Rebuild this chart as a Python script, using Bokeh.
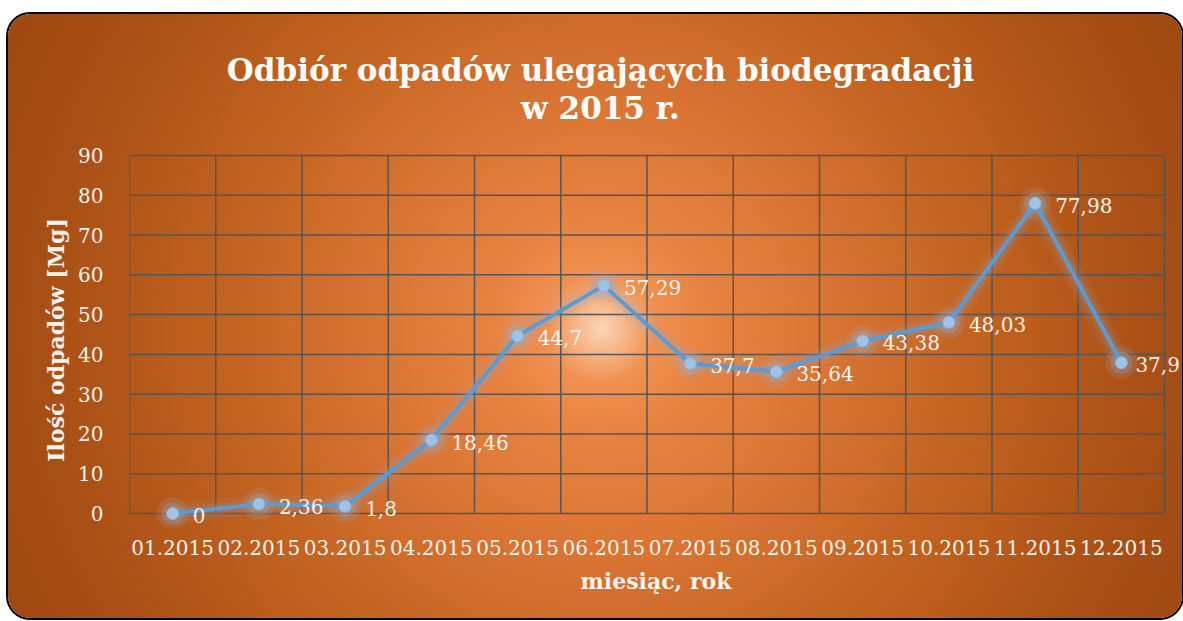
from bokeh.plotting import figure
from bokeh.models import ColumnDataSource, FixedTicker, Label, LabelSet, Range1d
from bokeh.core.properties import value
from bokeh.embed import file_html
from bokeh.resources import INLINE

# ---- data ----
months = ["01.2015", "02.2015", "03.2015", "04.2015", "05.2015", "06.2015",
          "07.2015", "08.2015", "09.2015", "10.2015", "11.2015", "12.2015"]
amounts = [0, 2.36, 1.8, 18.46, 44.7, 57.29, 37.7, 35.64, 43.38, 48.03, 77.98, 37.9]
y_ticks = [0, 10, 20, 30, 40, 50, 60, 70, 80, 90]
title_lines = ["Odbiór odpadów ulegających biodegradacji", "w 2015 r."]
x_title = "miesiąc, rok"
y_title = "Ilość odpadów [Mg]"

n = len(months)
xs = [i + 0.5 for i in range(n)]
labels = [("%g" % v).replace(".", ",") for v in amounts]
offsets = [20] * (n - 1) + [14]
src = ColumnDataSource(dict(x=xs, y=amounts, lab=labels, off=offsets))

W, H = 1174, 604
ML, GRID_TOP = 121, 141               # canvas px of the grid's left / top edge
PLOT_W, PLOT_H = 1035, 358          # pixel size of the 0..12 x 0..90 grid area
EXTRA_R, EXTRA_B = W - ML - PLOT_W, 14
MB = H - GRID_TOP - PLOT_H - EXTRA_B
FRAME_H = H - MB
SERIF = "DejaVu Serif"
TXT = "#f7f3ee"
GRID = "#555555"

ppu_x = PLOT_W / n
ppu_y = PLOT_H / y_ticks[-1]
x_end = n + EXTRA_R / ppu_x
y_start = -EXTRA_B / ppu_y
y_end = y_ticks[-1] + GRID_TOP / ppu_y

p = figure(width=W, height=H, output_backend="svg", toolbar_location=None,
           x_range=Range1d(0, x_end), y_range=Range1d(y_start, y_end),
           min_border_left=ML, min_border_right=0, min_border_top=0,
           min_border_bottom=MB)
p.background_fill_alpha = 0
p.border_fill_alpha = 0
p.outline_line_color = None
p.grid.visible = False
p.styles = {
    "margin-top": "14px",
    "margin-left": "8px",
    "border-radius": "22px",
    "box-shadow": "0 0 0 2px #000000",
    "background": "radial-gradient(circle farthest-corner at 50.5% 52%, "
                  "#fbd6b8 0px, #f09050 55px, #e88240 110px, #d97433 230px, "
                  "#c2621f 380px, #a84f15 560px, #9b4610 700px)",
}

# grid lines (drawn through the data scales)
gx = list(range(n + 1))
p.segment(x0=gx, y0=[y_ticks[0]] * len(gx), x1=gx, y1=[y_ticks[-1]] * len(gx),
          line_color=GRID, line_width=1.5)
p.segment(x0=[0] * len(y_ticks), y0=y_ticks, x1=[n] * len(y_ticks), y1=y_ticks,
          line_color=GRID, line_width=1.5)

# axes
p.xaxis.ticker = FixedTicker(ticks=xs)
p.xaxis.major_label_overrides = {x: m for x, m in zip(xs, months)}
p.yaxis.ticker = FixedTicker(ticks=y_ticks)
p.yaxis.bounds = (y_ticks[0], y_ticks[-1])
for ax in (p.xaxis[0], p.yaxis[0]):
    ax.axis_line_color = None
    ax.major_tick_line_color = None
    ax.minor_tick_line_color = None
    ax.major_label_text_font = SERIF
    ax.major_label_text_font_size = "20px"
    ax.major_label_text_color = TXT
    ax.axis_label_text_font = SERIF
    ax.axis_label_text_font_size = "22px"
    ax.axis_label_text_font_style = "bold"
    ax.axis_label_text_color = TXT
p.xaxis.axis_label = x_title
# the frame also spans the title area, so pad the label to centre it on the grid
p.yaxis.axis_label = y_title + "\u00a0" * 18
p.xaxis.major_label_standoff = 20 - EXTRA_B
p.xaxis.axis_label_standoff = 10
p.yaxis.major_label_standoff = 20
p.yaxis.axis_label_standoff = 6

# glow
p.line("x", "y", source=src, line_width=20, line_color="#8ea4c2", line_alpha=0.11)
p.line("x", "y", source=src, line_width=11, line_color="#8ea8cc", line_alpha=0.15)
p.scatter("x", "y", source=src, size=32, fill_color="#97aecd", fill_alpha=0.17, line_color=None)
p.scatter("x", "y", source=src, size=22, fill_color="#97b2d6", fill_alpha=0.24, line_color=None)
# main line and markers
p.line("x", "y", source=src, line_width=4, line_color="#5b9bd5")
p.scatter("x", "y", source=src, size=12, fill_color="#9dc3e6", line_color="#86b6e3", line_width=1)

# data labels
p.add_layout(LabelSet(x="x", y="y", text="lab", source=src, x_offset="off", y_offset=-2,
                      text_baseline="middle", text_align="left",
                      text_font=value(SERIF), text_font_size="20px", text_color=TXT))

# title (screen units: from the frame's bottom-left corner)
title_cx = 592 - ML
title_baselines = [55, 93]           # canvas px from the top
for t, b in zip(title_lines, title_baselines):
    p.add_layout(Label(x=title_cx, y=FRAME_H - b, x_units="screen", y_units="screen",
                       text=t, text_align="center", text_baseline="alphabetic",
                       text_font=SERIF, text_font_size="31px",
                       text_font_style="bold", text_color="#ffffff"))

open("out.html", "w").write(file_html(p, INLINE))
